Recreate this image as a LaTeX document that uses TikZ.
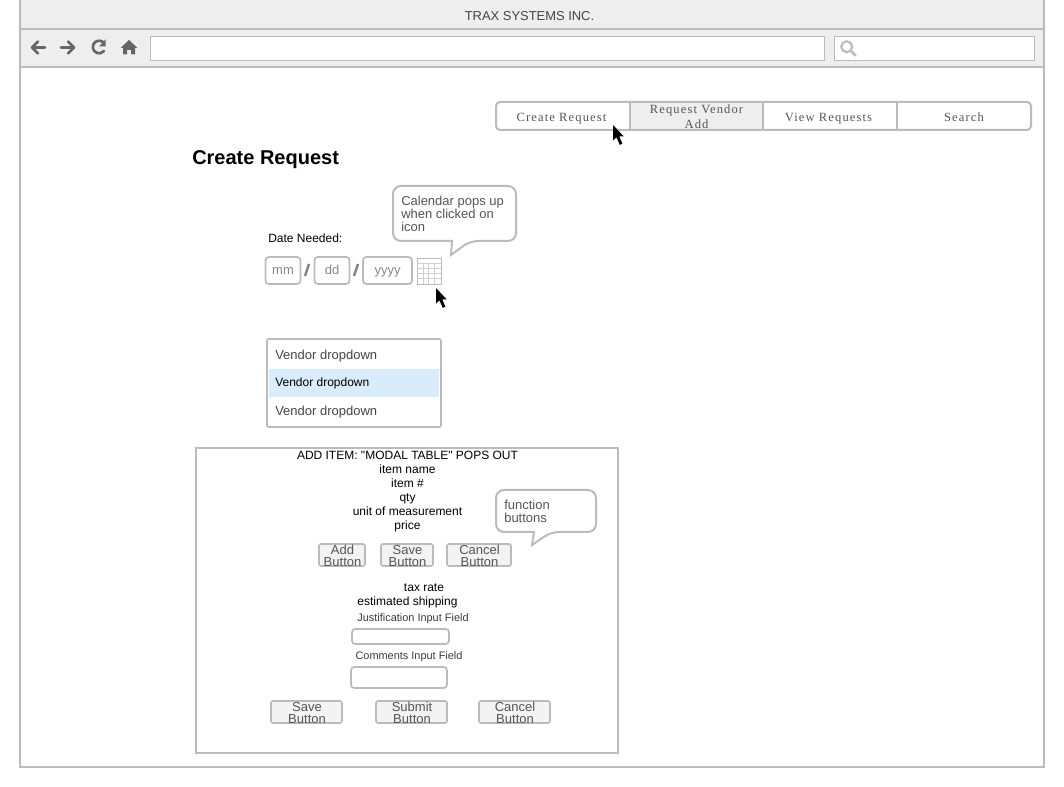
\documentclass[tikz,border=0pt]{standalone}
\usepackage{xcolor}
\usepackage{fontspec}
\setmainfont{Liberation Sans}
\newfontfamily\menufont[LetterSpace=9]{Liberation Serif}
\newfontfamily\quotefont{Liberation Sans}
\usetikzlibrary{positioning, calc}
\definecolor{wireline}{HTML}{BBBBBB}
\definecolor{wireband}{HTML}{EEEEEE}
\definecolor{wiretext}{HTML}{555555}
\definecolor{wireicon}{HTML}{666666}
\definecolor{wirehigh}{HTML}{D8ECFB}
\tikzset{
  size/.style 2 args={minimum width=#1*0.75pt, minimum height=#2*0.75pt, inner sep=0pt, outer sep=0pt},
  frame/.style={draw=wireline, line width=1.5pt},
  field/.style={frame, line width=1.3pt, fill=white, rounded corners=2.5pt, text=wiretext!70!white, text height=7.5pt, text depth=1.5pt, font=\fontsize{9.75pt}{10pt}\selectfont},
  wirebutton/.style={frame, line width=1.2pt, fill=wireband!70!white, rounded corners=1.5pt},
  buttontext/.style={inner sep=0pt, yshift=-0.75pt, xshift=0.4pt, text=wiretext, align=center, font=\fontsize{9.75pt}{9pt}\selectfont},
  menuitem/.style={text=wiretext, align=center, font=\menufont\fontsize{9.4pt}{11.3pt}\selectfont},
  plain/.style={inner sep=0pt, yshift=-1.25pt, text height=6.5pt, text depth=2pt, font=\fontsize{9pt}{10pt}\selectfont},
  note/.style={inner sep=0pt, anchor=west, align=left, text=wiretext, font=\fontsize{9.75pt}{9.75pt}\selectfont},
  drop/.style={inner sep=0pt, anchor=west, yshift=-0.75pt},
  small/.style={inner sep=0pt, yshift=-0.75pt, text=wiretext!70!black, font=\fontsize{8.2pt}{10pt}\selectfont},
  icon/.style={draw=wireicon, line width=2pt, line cap=round, line join=round}
}
\newcommand{\wirecursor}[2]{%
  \fill[black] (#1,#2) -- ++(0,15.5) -- ++(3.4,-3.2) -- ++(3.4,7.6) -- ++(2.6,-1.2) -- ++(-3.2,-7.4) -- ++(4.4,0) -- cycle;}

\begin{document}
\begin{tikzpicture}[x=0.75pt,y=-0.75pt]
    \useasboundingbox (0,0) rectangle (1064,787);

    % Window
    \fill[wireband] (20,0) rectangle (1044,67);
    \draw[frame] (20,-5) rectangle (1044,767);
    \draw[frame] (20,29) -- (1044,29);
    \draw[frame] (20,67) -- (1044,67);
    \node[text=wiretext!80!black, inner sep=0pt, font=\fontsize{9.7pt}{10pt}\selectfont] (title) at (529.5,16.5) {TRAX SYSTEMS INC.};

    % Toolbar
    \draw[icon] (45,47.5) -- (32,47.5) (38,41.5) -- (32,47.5) -- (38,53.5);
    \draw[icon] (61,47.5) -- (74,47.5) (68,41.5) -- (74,47.5) -- (68,53.5);
    \draw[icon] (104,43) arc (-40:-320:6.3);
    \fill[wireicon] (105.5,39.5) -- (105.5,46.5) -- (99,46.5) -- cycle;
    \fill[wireicon] (129,40) -- (137.5,48) -- (135,48) -- (135,54.5) -- (131,54.5) -- (131,50) -- (127,50) -- (127,54.5) -- (123,54.5) -- (123,48) -- (120.5,48) -- cycle;
    \node[frame, fill=white, size={674}{24}, line width=0.75pt] (address) at (487.5,49) {};
    \node[frame, fill=white, size={200}{24}, line width=0.75pt] (searchbox) at (934.5,49) {};
    \draw[wireline, line width=1.6pt] (846.7,46.7) circle (5.5);
    \draw[wireline, line width=2pt, line cap=round] (851,51) -- (855.5,55.5);

    % Menu
    \fill[wireband] (630,102) rectangle (763,130);
    \draw[frame, rounded corners=3pt] (496,102) rectangle (1031,130);
    \foreach \x in {630,763,897}
        \draw[frame] (\x,102) -- (\x,130);
    \foreach \x/\name/\label in {561.5/create/Create Request, 828.5/view/View Requests, 964/search/Search}
        \node[menuitem, text height=6.5pt, text depth=2pt] (\name) at (\x,119) {\label};
    \node[menuitem] (vendor) at (696.5,116.5) {Request Vendor\\Add};
    \wirecursor{613}{125}

    % Heading and date
    \node[inner sep=0pt, anchor=west, font=\bfseries\fontsize{15pt}{16pt}\selectfont] (heading) at (192,160) {Create Request};
    \node[plain, anchor=west] (dateneeded) at (268,238) {Date Needed:};
    \node[field, size={35}{27}] (mm) at (283,270.5) {mm};
    \node[field, size={35}{27}] (dd) at (332,270.5) {dd};
    \node[field, size={49}{27}] (yyyy) at (387.5,270.5) {yyyy};
    \foreach \x in {307,356}
        \draw[wireicon!80!white, line width=1.8pt] (\x+2,264) -- (\x-2,276);

    % Calendar
    \draw[wireline, fill=white, line width=0.7pt] (417,258) rectangle (441,284);
    \foreach \y in {263,268,273,278}
        \draw[wireline!70!white, line width=0.5pt] (417,\y) -- (441,\y);
    \foreach \x in {423,428,434}
        \draw[wireline!70!white, line width=0.5pt] (\x,263) -- (\x,284);
    \wirecursor{436}{288}

    % Callouts
    \draw[frame, fill=white, rounded corners=6pt] (393,186) -- (516,186) -- (516,241) -- (470,241) [sharp corners] -- (451,255) -- (452,241) [rounded corners=6pt] -- (393,241) -- cycle;
    \node[note] (calnote) at (401,214) {Calendar pops up\\when clicked on\\icon};
    \draw[frame, fill=white, rounded corners=6pt] (496,490) -- (596,490) -- (596,532) -- (551,532) [sharp corners] -- (532,545) -- (534,532) [rounded corners=6pt] -- (496,532) -- cycle;
    \node[note] (fnnote) at (504,511.5) {function\\buttons};

    % Dropdown
    \draw[frame, rounded corners=1pt, line width=1.2pt] (267,339) rectangle (441,427);
    \fill[wirehigh] (269,369) rectangle (439,397);
    \node[drop, text=wiretext!80!black, font=\fontsize{9.75pt}{10pt}\selectfont] (dropa) at (275,355) {Vendor dropdown};
    \node[drop, font=\fontsize{9pt}{10pt}\selectfont] (dropb) at (275,382) {Vendor dropdown};
    \node[drop, text=wiretext!80!black, font=\fontsize{9.75pt}{10pt}\selectfont] (dropc) at (275,411) {Vendor dropdown};

    % Modal
    \draw[frame] (196,448) rectangle (618,753);
    \foreach \x/\y/\name/\label in {407.5/454.5/additem/{\quotefont ADD ITEM: "MODAL TABLE" POPS OUT}, 407.5/469/itemname/item name, 407.5/483/itemno/item \#, 407.5/497/qty/qty, 407.5/511/unit/unit of measurement, 407.5/525/price/price, 424/587/taxrate/tax rate, 407.5/601/shipping/estimated shipping}
        \node[plain] (\name) at (\x,\y) {\label};
    \node[small] (justlabel) at (413,617.5) {Justification Input Field};
    \node[field, size={97}{15}] (justfield) at (400.5,636.5) {};
    \node[small] (commlabel) at (409,655.5) {Comments Input Field};
    \node[field, size={96}{21}] (commfield) at (399,677.5) {};

    % Buttons
    \foreach \x/\w/\name/\label in {342/46/addbtn/Add, 407/52/savebtn/Save, 479/64/cancelbtn/Cancel}
        \node[wirebutton, size={\w}{22}, label={[buttontext]center:{\label\\Button}}] (\name) at (\x,555) {};
    \foreach \x/\name/\label in {306.5/savemain/Save, 411.5/submitmain/Submit, 514.5/cancelmain/Cancel}
        \node[wirebutton, size={71}{22}, label={[buttontext]center:{\label\\Button}}] (\name) at (\x,712) {};
\end{tikzpicture}
\end{document}
